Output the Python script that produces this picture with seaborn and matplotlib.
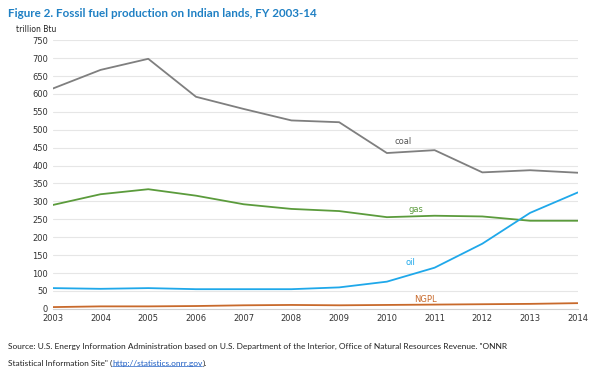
import pandas as pd
import matplotlib.pyplot as plt
import seaborn as sns

# Dados (trillion Btu)
anos = [2003, 2004, 2005, 2006, 2007, 2008, 2009, 2010, 2011, 2012, 2013, 2014]
coal = [615, 667, 698, 592, 558, 526, 521, 435, 443, 381, 387, 380]
gas = [290, 320, 334, 316, 292, 279, 273, 256, 260, 258, 246, 246]
oil = [58, 56, 58, 55, 55, 55, 60, 76, 115, 182, 268, 325]
ngpl = [5, 7, 7, 8, 10, 11, 10, 11, 12, 13, 14, 16]

cores = {'coal': '#7f7f7f', 'gas': '#5b9b3c', 'oil': '#1fa8ea', 'NGPL': '#c8692b'}

df = pd.DataFrame({'ano': anos, 'coal': coal, 'gas': gas, 'oil': oil, 'NGPL': ngpl})
df_long = df.melt(id_vars='ano', var_name='serie', value_name='valor')

sns.set_style('white')
plt.rcParams['font.family'] = ['DejaVu Sans']

fig = plt.figure(figsize=(6, 3.79), dpi=100)
ax = fig.add_axes([0.088, 0.185, 0.875, 0.709])

sns.lineplot(data=df_long, x='ano', y='valor', hue='serie', palette=cores,
             linewidth=1.3, legend=False, ax=ax)

ax.set_xlim(2003, 2014)
ax.set_ylim(0, 750)
ax.set_xticks(anos)
ax.set_yticks(range(0, 751, 50))
ax.tick_params(labelsize=6, length=0, colors='#333333')
ax.tick_params(axis='x', pad=4)
ax.grid(axis='y', color='#e6e6e6', linewidth=0.8)
for s in ['top', 'right', 'left']:
    ax.spines[s].set_visible(False)
ax.spines['bottom'].set_color('#d0d0d0')
ax.set_xlabel('')
ax.set_ylabel('')

# Rótulos das séries
ax.text(2010.35, 460, 'coal', color='#555555', fontsize=6, ha='center')
ax.text(2010.6, 270, 'gas', color=cores['gas'], fontsize=6, ha='center')
ax.text(2010.5, 122, 'oil', color=cores['oil'], fontsize=6, ha='center')
ax.text(2010.8, 20, 'NGPL', color=cores['NGPL'], fontsize=6, ha='center')

fig.text(0.013, 0.965, 'Figure 2. Fossil fuel production on Indian lands, FY 2003-14',
         color='#1f80c4', fontsize=8.4, fontweight='bold', family='Lato', va='center')
fig.text(0.027, 0.922, 'trillion Btu', fontsize=5.5, color='#222222', va='center')

# Fonte (com o link em azul sublinhado)
fig.text(0.013, 0.085, 'Source: U.S. Energy Information Administration based on U.S. Department of the Interior, '
         'Office of Natural Resources Revenue. "ONNR', fontsize=6, family='Lato', color='#222222', va='center')
t1 = fig.text(0.013, 0.04, 'Statistical Information Site" (', fontsize=6, family='Lato',
              color='#222222', va='center')
renderer = fig.canvas.get_renderer()
bb = t1.get_window_extent(renderer).transformed(fig.transFigure.inverted())
t2 = fig.text(bb.x1, 0.04, 'http://statistics.onrr.gov', fontsize=6, family='Lato',
              color='#1f5fc4', va='center')
bb2 = t2.get_window_extent(renderer).transformed(fig.transFigure.inverted())
fig.add_artist(plt.Line2D([bb2.x0, bb2.x1], [bb2.y0 + 0.004, bb2.y0 + 0.004],
                          transform=fig.transFigure, color='#1f5fc4', linewidth=0.5))
fig.text(bb2.x1, 0.04, ').', fontsize=6, family='Lato', color='#222222', va='center')

plt.savefig('out.png', dpi=100)
